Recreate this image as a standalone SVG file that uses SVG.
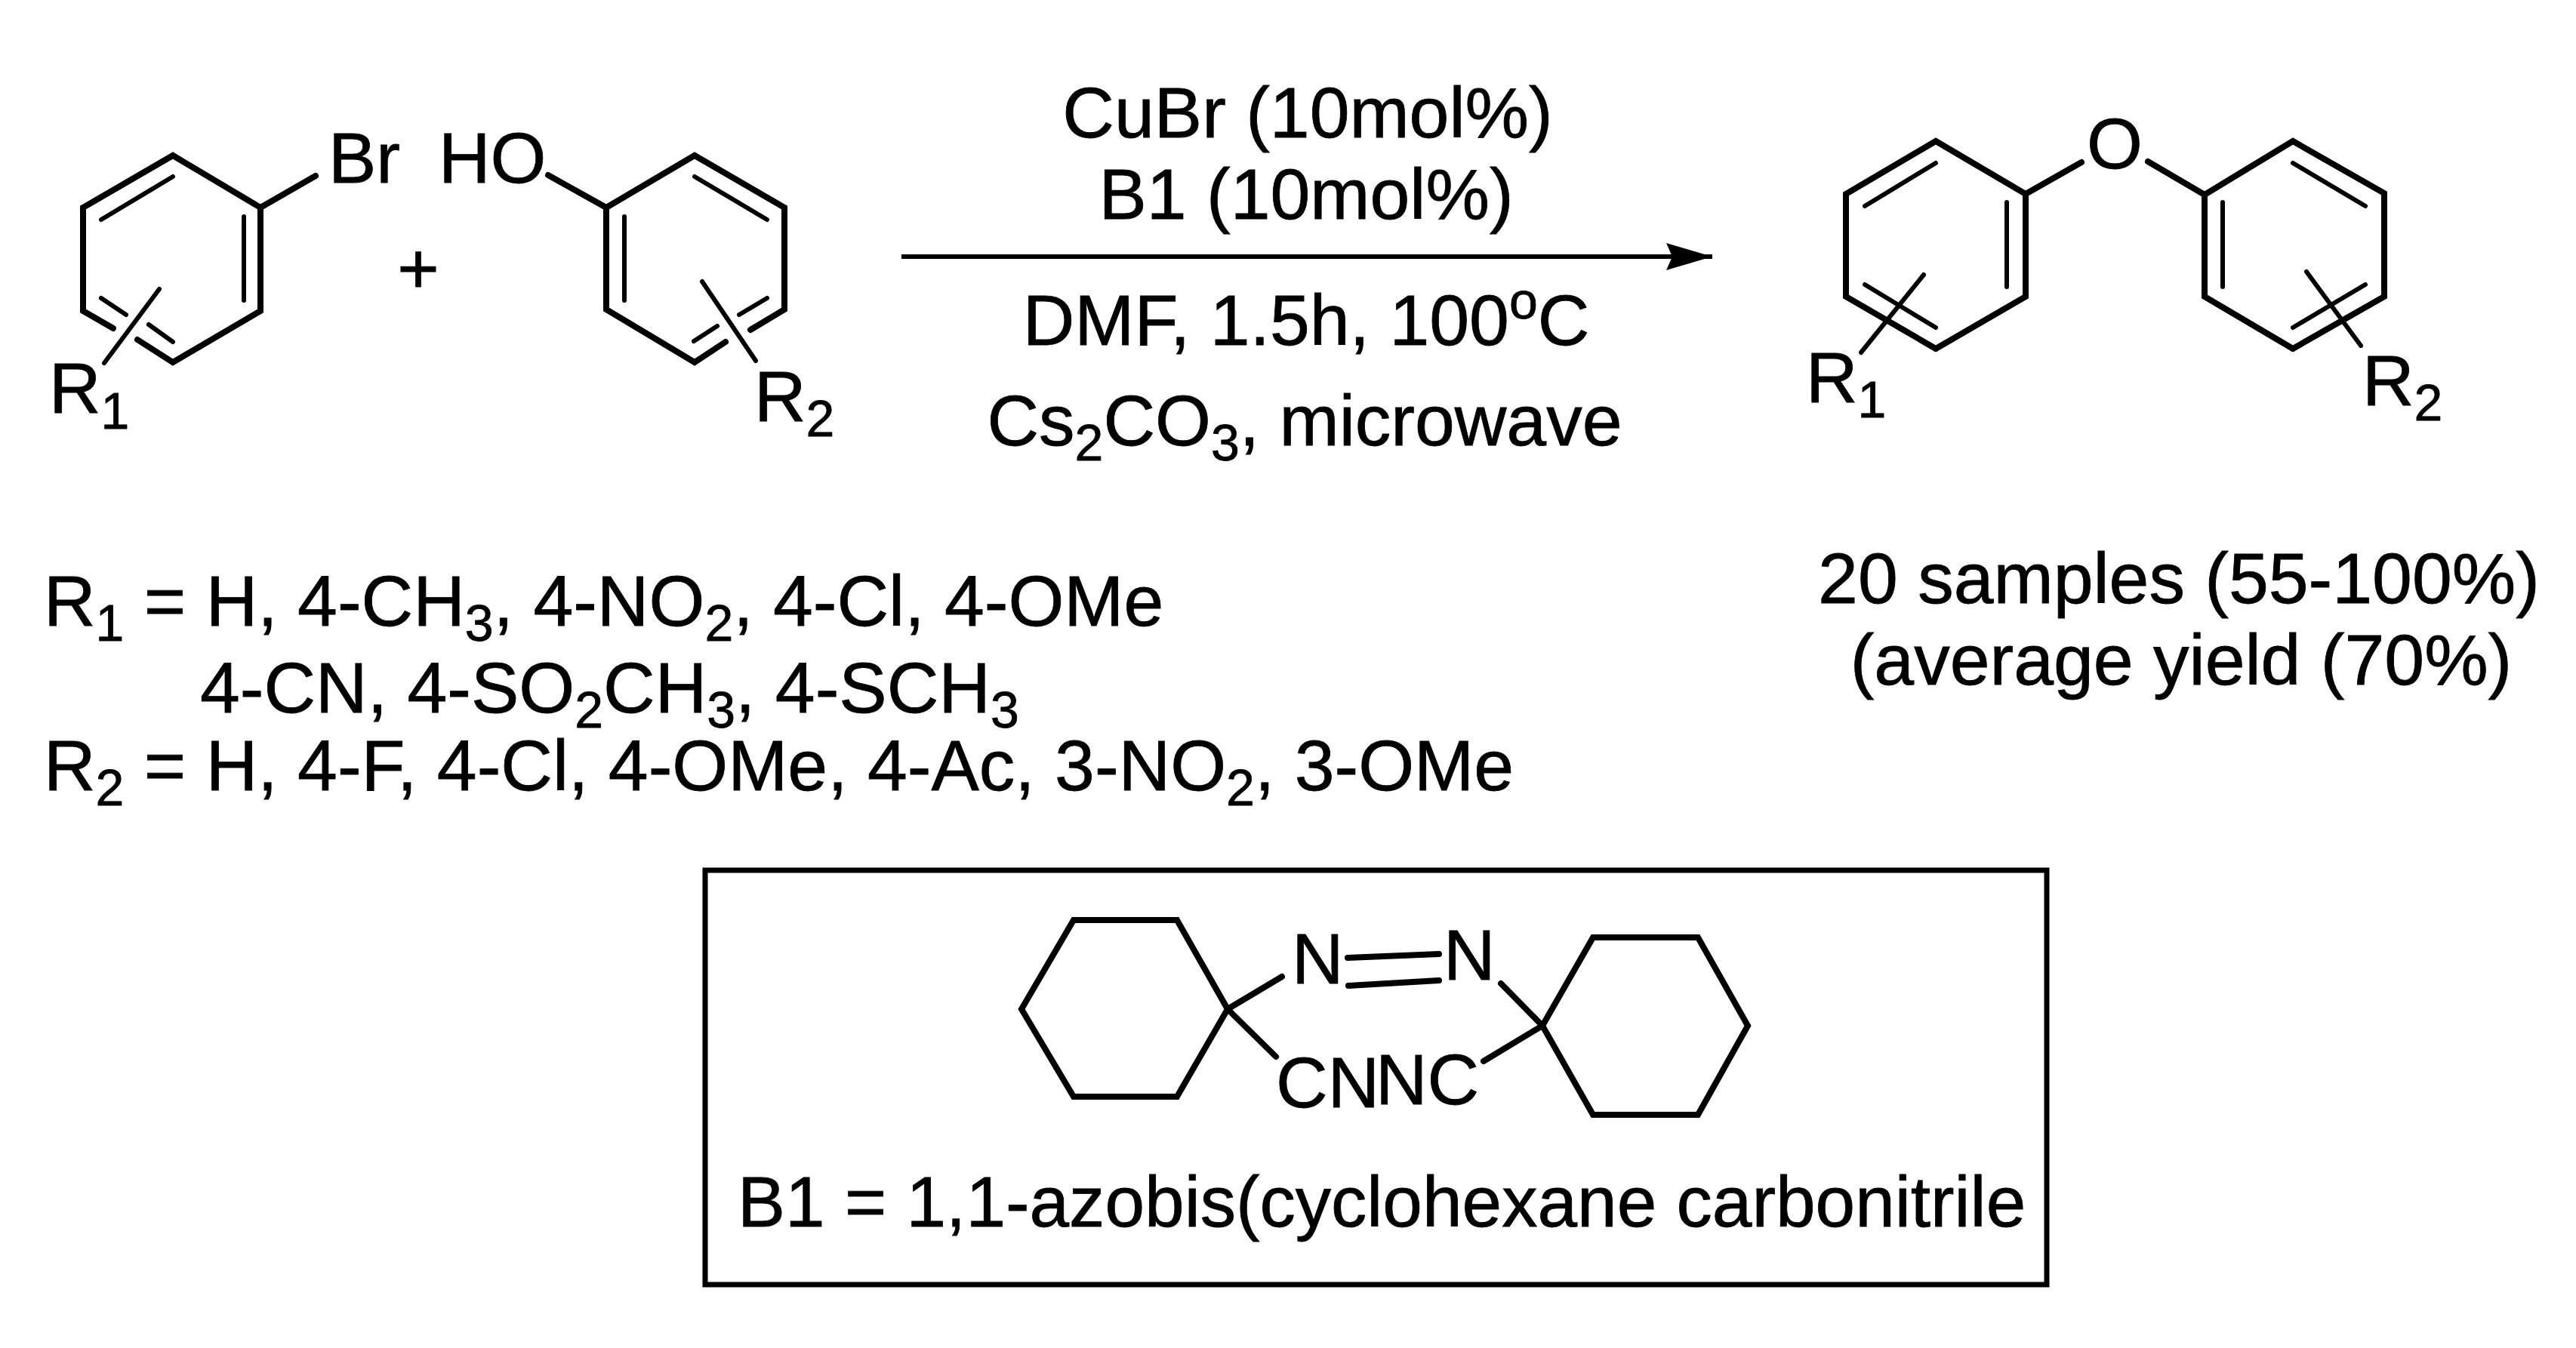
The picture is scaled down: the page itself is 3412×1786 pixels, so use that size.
<svg xmlns="http://www.w3.org/2000/svg" width="3412" height="1786" viewBox="0 0 3412 1786">
<style>
text{font-family:"Liberation Sans",Arial,sans-serif;font-size:95px;fill:#000;stroke:#000;stroke-width:.8}
.s{font-size:68px}
.m{text-anchor:middle}
.b{fill:none;stroke:#000;stroke-width:8;stroke-linejoin:miter;stroke-linecap:round}
.t{fill:none;stroke:#000;stroke-width:6;stroke-linecap:round}
</style>
<defs>
<marker id="head" markerUnits="userSpaceOnUse" markerWidth="64" markerHeight="38" refX="61" refY="19" orient="auto"><path d="M0 1 L61 19 L0 37 L8 19 Z" fill="#000"/></marker>
</defs>
<rect width="3412" height="1786" fill="#fff"/>
<g id="aryl-bromide">
<path class="b" d="M150 435 L110 412 L110 275 L229 206 L345 275 L345 412 L229 480 L182 450"/>
<path class="t" d="M134 291 L229 234 M323 287 L323 398 M134 395 L167 417 M197 430 L229 453"/>
<path class="b" d="M345 275 L418 233"/>
<path class="t" d="M211 383 L138 481"/>
<text x="435" y="242">Br</text>
<text x="65" y="547">R<tspan class="s" dy="21">1</tspan></text>
</g>
<g id="plus"><text class="m" x="554" y="388">+</text></g>
<g id="phenol">
<path class="b" d="M994 437 L1039 410 L1039 275 L920 206 L803 275 L803 410 L920 480 L961 453"/>
<path class="t" d="M920 234 L1016 291 M827 287 L827 398 M1016 395 L979 417 M950 432 L919 452"/>
<path class="b" d="M803 275 L726 232"/>
<path class="t" d="M930 373 L1001 478"/>
<text x="581" y="242">HO</text>
<text x="999" y="558">R<tspan class="s" dy="20">2</tspan></text>
</g>
<g id="connectors">
<line x1="1194" y1="340" x2="2268" y2="340" stroke="#000" stroke-width="6" marker-end="url(#head)"/>
</g>
<g id="conditions">
<text class="m" x="1732" y="182">CuBr (10mol%)</text>
<text class="m" x="1730" y="290">B1 (10mol%)</text>
<text class="m" x="1730" y="457">DMF, 1.5h, 100<tspan class="s" dy="-35">o</tspan><tspan dy="35">C</tspan></text>
<text class="m" x="1728" y="590">Cs<tspan class="s" dy="20">2</tspan><tspan dy="-20">CO</tspan><tspan class="s" dy="20">3</tspan><tspan dy="-20">, microwave</tspan></text>
</g>
<g id="diaryl-ether">
<path class="b" d="M2564 462 L2445 393 L2445 257 L2564 187 L2683 257 L2683 393 L2564 462"/>
<path class="t" d="M2470 273 L2564 216 M2658 268 L2658 380 M2470 377 L2564 434"/>
<path class="b" d="M2683 257 L2757 215 M2845 214 L2920 258"/>
<path class="b" d="M3037 462 L2920 393 L2920 258 L3037 187 L3158 256 L3158 393 L3037 462"/>
<path class="t" d="M3037 216 L3133 273 M2944 268 L2944 380 M3133 377 L3037 434"/>
<path class="t" d="M2548 364 L2465 467 M3055 360 L3127 458"/>
<text class="m" x="2801" y="223">O</text>
<text x="2392" y="533">R<tspan class="s" dy="20">1</tspan></text>
<text x="3129" y="537">R<tspan class="s" dy="20">2</tspan></text>
</g>
<g id="substituents">
<text x="58" y="829">R<tspan class="s" dy="20">1</tspan><tspan dy="-20"> = H, 4-CH</tspan><tspan class="s" dy="20">3</tspan><tspan dy="-20">, 4-NO</tspan><tspan class="s" dy="20">2</tspan><tspan dy="-20">, 4-Cl, 4-OMe</tspan></text>
<text x="265" y="944">4-CN, 4-SO<tspan class="s" dy="20">2</tspan><tspan dy="-20">CH</tspan><tspan class="s" dy="20">3</tspan><tspan dy="-20">, 4-SCH</tspan><tspan class="s" dy="20">3</tspan></text>
<text x="58" y="1047">R<tspan class="s" dy="20">2</tspan><tspan dy="-20"> = H, 4-F, 4-Cl, 4-OMe, 4-Ac, 3-NO</tspan><tspan class="s" dy="20">2</tspan><tspan dy="-20">, 3-OMe</tspan></text>
</g>
<g id="yield">
<text class="m" x="2886" y="799">20 samples (55-100%)</text>
<text class="m" x="2889" y="907">(average yield (70%)</text>
</g>
<g id="b1-box">
<rect x="934" y="1153" width="1777" height="549" fill="none" stroke="#000" stroke-width="7"/>
<path class="b" d="M1422 1219 L1559 1219 L1626 1337 L1559 1453 L1422 1453 L1353 1337 Z"/>
<path class="b" d="M2110 1242 L2249 1242 L2315 1359 L2249 1477 L2110 1477 L2043 1359 Z"/>
<path class="b" d="M1626 1337 L1698 1294 M1626 1337 L1690 1400 M2043 1359 L1988 1303 M2043 1359 L1965 1406 M1785 1269 L1906 1264 M1786 1306 L1906 1299"/>
<text x="1711" y="1303">N</text>
<text x="1912" y="1298">N</text>
<text x="1690" y="1467">CN</text>
<text x="1822" y="1463">NC</text>
<text x="977" y="1625" style="font-size:94.6px">B1 = 1,1-azobis(cyclohexane carbonitrile</text>
</g>
</svg>
